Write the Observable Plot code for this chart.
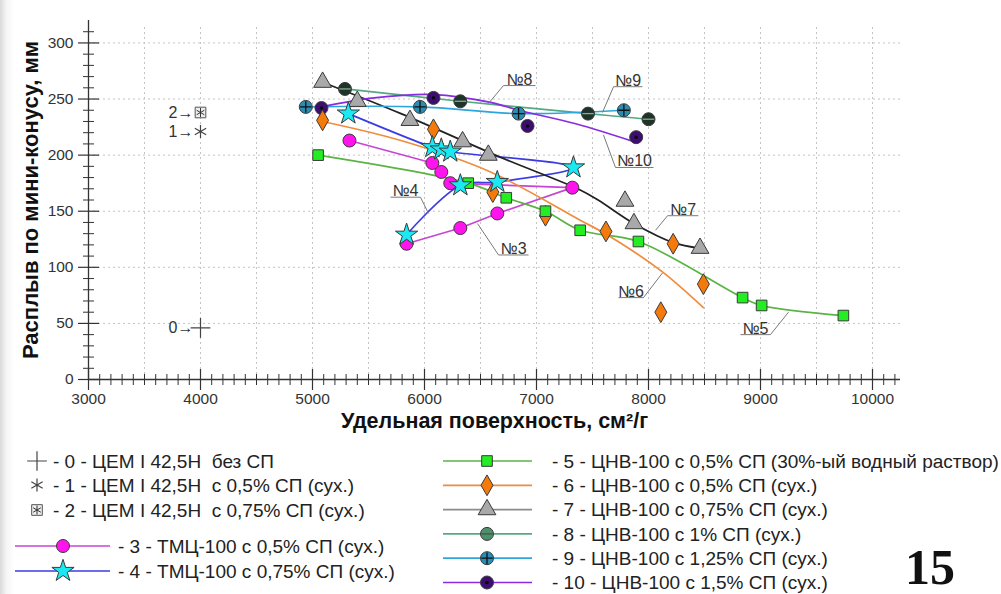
<!DOCTYPE html>
<html><head><meta charset="utf-8">
<script src="https://cdn.jsdelivr.net/npm/d3@7"></script>
<script src="https://cdn.jsdelivr.net/npm/@observablehq/plot@0.6"></script>
<style>
body{margin:0;background:#fff;font-family:"Liberation Sans",Arial,sans-serif;}
#wrap{position:relative;width:1001px;height:594px;overflow:hidden;background:linear-gradient(to right,#d9d9d9 0px,#f4f4f4 6px,#fff 14px);}
#chart svg,#legend svg{display:block;}
</style></head><body><div id="wrap"><div id="chart"></div><div id="legend"></div></div>
<script>
// ---------- data ----------
const s3x=[5330,6070,6150,6230,7320,6650,6320,5840];
const s3y=[213,193,185,175,171,148,135,121];
const s4x=[5320,6070,6150,6230,7330,6650,6320,5840];
const s4y=[237,207,205,203,189,176,173,129];
const s5x=[5050,6390,6730,7080,7390,7910,8840,9010,9740];
const s5y=[200,175,162,150,133,123,73,66,57];
const s6x=[5090,6080,6610,7080,7620,8220,8490,8110];
const s6y=[231,223,167,146,132,121,85,60];
const s6fitX=[5090,5790,6590,7390,7630,8110,8490];
const s6fitY=[230,213,185,142,129,97,64];
const s7x=[5090,5400,5870,6340,6570,7790,7870,8460];
const s7y=[265,248,231,212,200,159,139,117];
const s7fitX=[5090,5790,6680,7390,7550,7870,8220,8460];
const s7fitY=[265,237,198,169,160,139,122,117];
const s8x=[5290,6320,7460,8000];
const s8y=[259,248,237,232];
const s9x=[4940,5960,6840,7780];
const s9y=[243,243,237,240];
const s10x=[5080,6080,6920,7890];
const s10y=[242,251,226,216];
const s10fitX=[5080,5550,6080,6590,6840,7350,7870];
const s10fitY=[243,251,254,247,240,228,212];
const refName=["0","1","2"];
const refX=[4000,4000,4000];
const refY=[46,221,238];
const labText=["№3","№4","№5","№6","№7","№8","№9","№10"];
const labTipX=[6473,6036,9250,8125,8063,6571,7589,7598];
const labTipY=[139,148,60,95,133,246,238,218];
const labU1X=[6661,5696,8821,7732,8170,6705,7688,7705];
const labU2X=[6929,5964,9089,7955,8446,6991,7946,8045];
const labUY=[111,162.5,40,73,146,262,261,189];
const xMajor=[3000,4000,5000,6000,7000,8000,9000,10000];
const yMajor=[0,50,100,150,200,250,300];
const legendText={
 0:"- 0 - ЦЕМ I 42,5Н  без СП",
 1:"- 1 - ЦЕМ I 42,5Н  с 0,5% СП (сух.)",
 2:"- 2 - ЦЕМ I 42,5Н  с 0,75% СП (сух.)",
 3:"- 3 - ТМЦ-100 с 0,5% СП (сух.)",
 4:"- 4 - ТМЦ-100 с 0,75% СП (сух.)",
 5:"- 5 - ЦНВ-100 с 0,5% СП (30%-ый водный раствор)",
 6:"- 6 - ЦНВ-100 с 0,5% СП (сух.)",
 7:"- 7 - ЦНВ-100 с 0,75% СП (сух.)",
 8:"- 8 - ЦНВ-100 с 1% СП (сух.)",
 9:"- 9 - ЦНВ-100 с 1,25% СП (сух.)",
 10:"- 10 - ЦНВ-100 с 1,5% СП (сух.)"
};

// ---------- styles ----------
const symMinus={draw(ctx,size){const r=Math.sqrt(size/Math.PI);ctx.moveTo(-r,0);ctx.lineTo(r,0);}};
const symCross={draw(ctx,size){const r=Math.sqrt(size/Math.PI);ctx.moveTo(-r,0);ctx.lineTo(r,0);ctx.moveTo(0,-r);ctx.lineTo(0,r);}};
const vTick=L=>({draw(ctx){ctx.moveTo(0,-L);ctx.lineTo(0,L);}});
const hTick=L=>({draw(ctx){ctx.moveTo(-L,0);ctx.lineTo(L,0);}});
const ST={
 3:{line:"#c944d4",fill:"#ff14ee",sym:"circle",d3sym:d3.symbolCircle,r:6.5,curve:"linear"},
 4:{line:"#3b3be6",fill:"#1ae8f2",sym:"star",d3sym:d3.symbolStar,r:7,curve:"catmull-rom"},
 5:{line:"#5ab443",fill:"#22ee22",sym:"square",d3sym:d3.symbolSquare,r:6,curve:"catmull-rom"},
 6:{line:"#f08c3c",fill:"#f57a0c",sym:"diamond",d3sym:d3.symbolDiamond,r:6.3,curve:"catmull-rom"},
 7:{line:"#222222",legLine:"#8c8c8c",fill:"#a9a9a9",sym:"triangle",d3sym:d3.symbolTriangle,r:6.6,curve:"catmull-rom"},
 8:{line:"#55a982",fill:"#1f3429",legFill:"#4f8f6c",sym:"circle",d3sym:d3.symbolCircle,r:6.5,curve:"catmull-rom",inner:symMinus,innerStroke:"#8aa898"},
 9:{line:"#2ea6dc",fill:"#2a8db6",sym:"circle",d3sym:d3.symbolCircle,r:6.5,curve:"catmull-rom",inner:symCross,innerStroke:"#111"},
 10:{line:"#8a2be2",fill:"#3e0d72",sym:"circle",d3sym:d3.symbolCircle,r:6.5,curve:"catmull-rom",innerDot:true}
};

// ---------- tables ----------
const pts=(id,xs,ys)=>xs.map((x,i)=>({id,x,y:ys[i]}));
const seriesPts={3:pts(3,s3x,s3y),4:pts(4,s4x,s4y),5:pts(5,s5x,s5y),6:pts(6,s6x,s6y),7:pts(7,s7x,s7y),8:pts(8,s8x,s8y),9:pts(9,s9x,s9y),10:pts(10,s10x,s10y)};
const seriesLine={3:seriesPts[3],4:seriesPts[4],5:seriesPts[5],6:pts(6,s6fitX,s6fitY),7:pts(7,s7fitX,s7fitY),8:seriesPts[8],9:seriesPts[9],10:pts(10,s10fitX,s10fitY)};
const refs=refName.map((n,i)=>({n,x:refX[i],y:refY[i]}));
const labs=labText.map((t,i)=>{
  const near=Math.abs(labTipX[i]-labU1X[i])<Math.abs(labTipX[i]-labU2X[i])?labU1X[i]:labU2X[i];
  return {t,tx:labTipX[i],ty:labTipY[i],u1:labU1X[i],u2:labU2X[i],uy:labUY[i],near};
});
const xMinor=d3.range(3100,10250,100).filter(v=>!xMajor.includes(v));
const yMinor=d3.range(10,320,10).filter(v=>!yMajor.includes(v));
const gridX=d3.range(3500,10001,500);
const gridY=[50,100,150,200,250,300];

const ids=[3,4,5,6,7,8,9,10];
const lineMarks=ids.map(id=>Plot.line(seriesLine[id],{x:"x",y:"y",stroke:ST[id].line,strokeWidth:1.7,curve:ST[id].curve}));
const dotMarks=[];
for(const id of [8,9,10,7,6,5,3,4]){
  const s=ST[id];
  dotMarks.push(Plot.dot(seriesPts[id],{x:"x",y:"y",symbol:s.sym,r:s.r,fill:s.fill,stroke:"#3a3a3a",strokeWidth:1}));
  if(s.inner) dotMarks.push(Plot.dot(seriesPts[id],{x:"x",y:"y",symbol:s.inner,r:s.r-0.8,fill:"none",stroke:s.innerStroke,strokeWidth:1.3}));
  if(s.innerDot) dotMarks.push(Plot.dot(seriesPts[id],{x:"x",y:"y",r:1.8,fill:"#0a0a0a"}));
}

const FONT='"Liberation Sans", Arial, sans-serif';
const chart=Plot.plot({
  width:1001,height:440,
  marginLeft:88,marginRight:101,marginTop:20,marginBottom:61,
  x:{domain:[3000,10250],axis:null},
  y:{domain:[0,320],axis:null},
  style:{fontFamily:FONT,fontSize:"15px",background:"transparent",color:"#333"},
  marks:[
    Plot.ruleY(gridY,{stroke:"#c4c4c4",strokeDasharray:"2,3",strokeWidth:1}),
    Plot.ruleX(gridX,{y1:0,y2:316,stroke:"#c4c4c4",strokeDasharray:"2,3",strokeWidth:1}),
    Plot.ruleX([3000],{y1:0,y2:320,stroke:"#333",strokeWidth:1.3}),
    Plot.ruleY([0],{stroke:"#333",strokeWidth:1.3}),
    Plot.dot(xMajor,{x:d=>d,y:0,symbol:vTick(10.5),stroke:"#333",fill:"none",strokeWidth:1.2}),
    Plot.dot(xMinor,{x:d=>d,y:0,symbol:vTick(5.5),stroke:"#333",fill:"none",strokeWidth:1}),
    Plot.dot(yMajor,{x:3000,y:d=>d,symbol:hTick(10.5),stroke:"#333",fill:"none",strokeWidth:1.2}),
    Plot.dot(yMinor,{x:3000,y:d=>d,symbol:hTick(5.5),stroke:"#333",fill:"none",strokeWidth:1}),
    Plot.text(yMajor,{x:3000,y:d=>d,text:d=>String(d),dx:-15,textAnchor:"end",fontSize:15.5,fill:"#333"}),
    Plot.text(xMajor,{x:d=>d,y:0,text:d=>String(d),dy:20,fontSize:15.5,fill:"#333"}),
    Plot.text(["Удельная поверхность, см²/г"],{frameAnchor:"bottom",dy:48,fontSize:21.5,fontWeight:"bold",fill:"#111"}),
    Plot.text(["Расплыв по мини-конусу, мм"],{frameAnchor:"left",textAnchor:"middle",dx:-58,rotate:-90,fontSize:22,fontWeight:"bold",fill:"#111"}),
    ...lineMarks,
    ...dotMarks,
    Plot.dot(refs.filter(d=>d.n==="0"),{x:"x",y:"y",symbol:"plus",r:6.4,stroke:"#444",strokeWidth:1.2}),
    Plot.dot(refs.filter(d=>d.n==="1"),{x:"x",y:"y",symbol:"asterisk",r:6.2,stroke:"#444",strokeWidth:1.2}),
    Plot.dot(refs.filter(d=>d.n==="2"),{x:"x",y:"y",symbol:"square",r:6,fill:"#eee",stroke:"#555",strokeWidth:1}),
    Plot.dot(refs.filter(d=>d.n==="2"),{x:"x",y:"y",symbol:"asterisk",r:4.2,stroke:"#333",strokeWidth:1}),
    Plot.text(refs,{x:"x",y:"y",text:d=>d.n+"→",textAnchor:"end",dx:-7,fontSize:16,fill:"#333"}),
    Plot.link(labs,{x1:"tx",y1:"ty",x2:"near",y2:"uy",stroke:"#7a7a7a",strokeWidth:1}),
    Plot.link(labs,{x1:"u1",y1:"uy",x2:"u2",y2:"uy",stroke:"#7a7a7a",strokeWidth:1}),
    Plot.text(labs,{x:d=>(d.u1+d.u2)/2,y:"uy",text:"t",lineAnchor:"bottom",dy:-1,fontSize:16,fill:"#333"})
  ]
});
document.getElementById("chart").appendChild(chart);

// ---------- legend (below the chart svg) ----------
const leg=d3.select("#legend").append("svg").attr("width",1001).attr("height",154)
  .style("font-family",FONT).style("font-size","19px");
const off=440;
const symPath=(type,r)=>d3.symbol().type(type).size(Math.PI*r*r)();
function simpleItem(id,cy,draw){
  const g=leg.append("g").attr("transform",`translate(37,${cy-off})`);
  draw(g);
  leg.append("text").attr("x",53).attr("y",cy-off).attr("dy","0.35em").attr("fill","#222").style("white-space","pre").text(legendText[id]);
}
simpleItem(0,461,g=>g.append("path").attr("d",symPath(d3.symbolPlus,6.4)).attr("fill","none").attr("stroke","#444").attr("stroke-width",1.2));
simpleItem(1,485,g=>g.append("path").attr("d",symPath(d3.symbolAsterisk,6.2)).attr("fill","none").attr("stroke","#444").attr("stroke-width",1.2));
simpleItem(2,510,g=>{g.append("path").attr("d",symPath(d3.symbolSquare,6)).attr("fill","#eee").attr("stroke","#555");
  g.append("path").attr("d",symPath(d3.symbolAsterisk,4.2)).attr("fill","none").attr("stroke","#333");});
function lineItem(id,cy,x1,x2,mx,tx){
  const s=ST[id];
  leg.append("line").attr("x1",x1).attr("x2",x2).attr("y1",cy-off).attr("y2",cy-off).attr("stroke",s.legLine||s.line).attr("stroke-width",1.7);
  const g=leg.append("g").attr("transform",`translate(${mx},${cy-off})`);
  g.append("path").attr("d",symPath(s.d3sym,s.r)).attr("fill",s.legFill||s.fill).attr("stroke","#3a3a3a");
  if(s.inner) g.append("path").attr("d",d3.symbol().type(s.inner).size(Math.PI*(s.r-0.8)**2)()).attr("fill","none").attr("stroke",id===8?"#3a5a48":s.innerStroke).attr("stroke-width",1.3);
  if(s.innerDot) g.append("circle").attr("r",1.8).attr("fill","#0a0a0a");
  leg.append("text").attr("x",tx).attr("y",cy-off).attr("dy","0.35em").attr("fill","#222").style("white-space","pre").text(legendText[id]);
}
lineItem(3,546,15,110,63,118);
lineItem(4,571,15,110,63,118);
[5,6,7,8,9,10].forEach((id,i)=>lineItem(id,461+24.3*i,443,532,487,552));
leg.append("text").attr("x",930).attr("y",584-off).attr("text-anchor","middle")
  .style("font-family",'"Liberation Serif","DejaVu Serif",serif').style("font-weight","bold").style("font-size","50px").attr("fill","#111").text("15");
</script>
</body></html>
